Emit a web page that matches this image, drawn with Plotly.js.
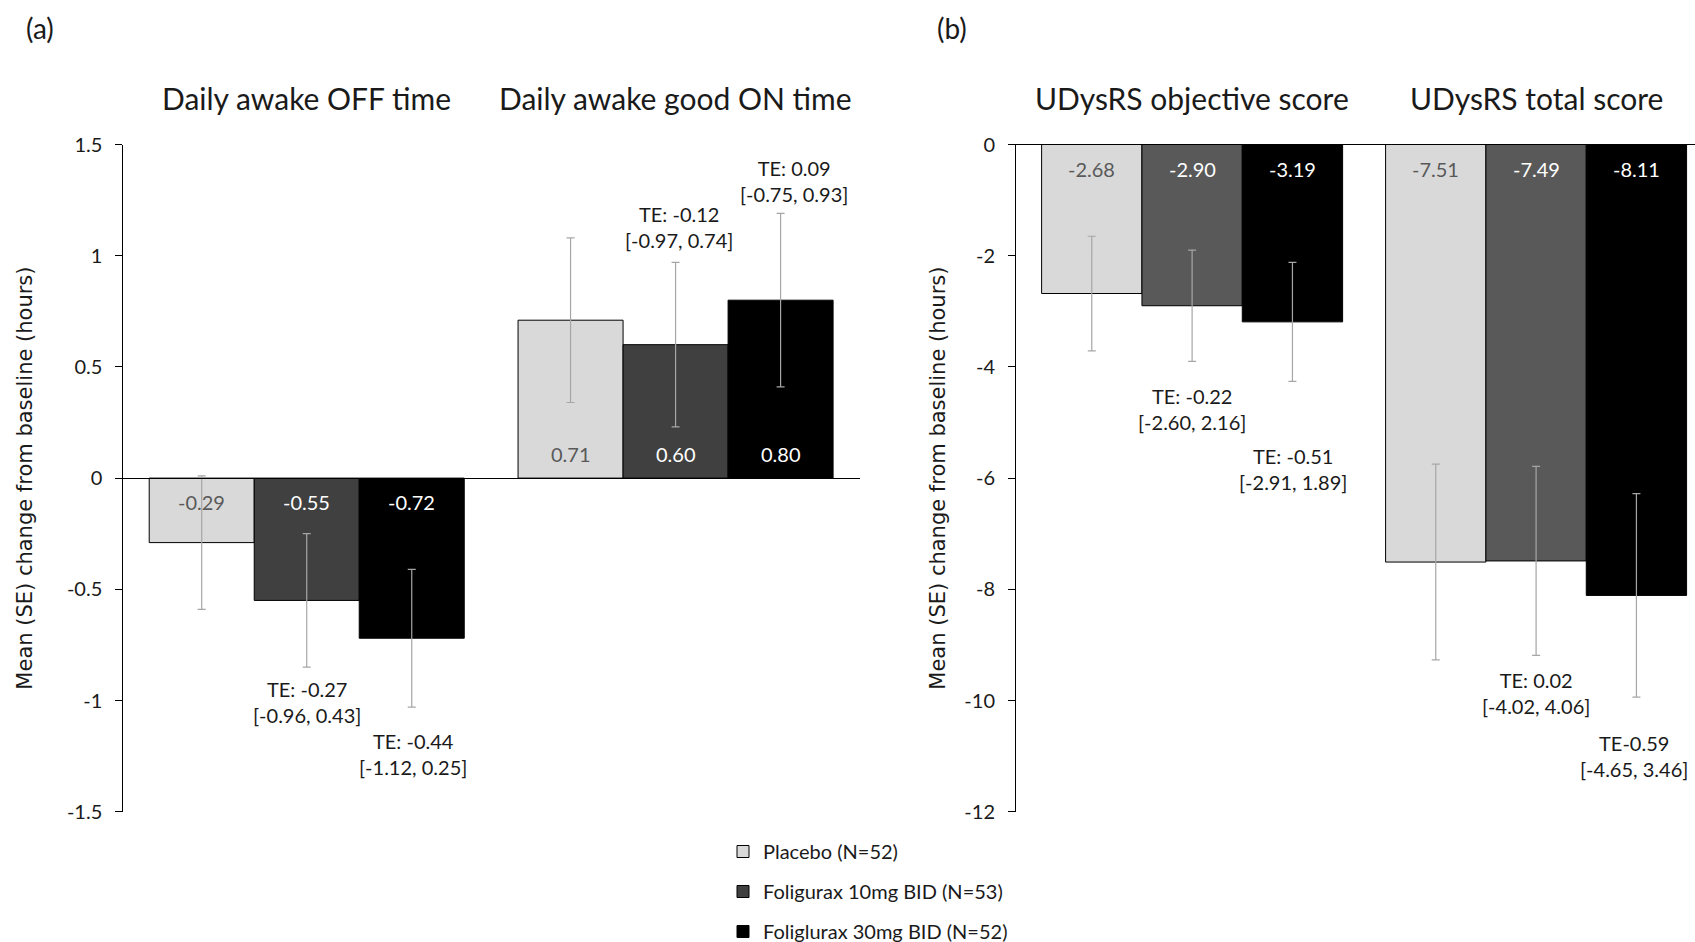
<!DOCTYPE html>
<html>
<head>
<meta charset="utf-8">
<script src="https://cdn.plot.ly/plotly-3.0.1.min.js"></script>
<style>
html,body{margin:0;padding:0;background:#ffffff;}
#chart{width:1695px;height:942px;}
</style>
</head>
<body>
<div id="chart"></div>
<script>
// ---------- DATA ----------
const seriesNames = ["Placebo (N=52)", "Foligurax 10mg BID (N=53)", "Foliglurax 30mg BID (N=52)"];

// Panel (a)
const categoriesA = ["Daily awake OFF time", "Daily awake good ON time"];
const placeboA = [-0.29, 0.71];
const dose10A  = [-0.55, 0.60];
const dose30A  = [-0.72, 0.80];
const placeboSeA = [0.30, 0.37];
const dose10SeA  = [0.30, 0.37];
const dose30SeA  = [0.31, 0.39];
const te10A = ["TE: -0.27", "TE: -0.12"];
const ci10A = ["[-0.96, 0.43]", "[-0.97, 0.74]"];
const te30A = ["TE: -0.44", "TE: 0.09"];
const ci30A = ["[-1.12, 0.25]", "[-0.75, 0.93]"];
const tickValsA = [-1.5, -1, -0.5, 0, 0.5, 1, 1.5];
const tickTextA = ["-1.5", "-1", "-0.5", "0", "0.5", "1", "1.5"];

// Panel (b)
const categoriesB = ["UDysRS objective score", "UDysRS total score"];
const placeboB = [-2.68, -7.51];
const dose10B  = [-2.90, -7.49];
const dose30B  = [-3.19, -8.11];
const placeboSeB = [1.03, 1.76];
const dose10SeB  = [1.00, 1.70];
const dose30SeB  = [1.07, 1.83];
const te10B = ["TE: -0.22", "TE: 0.02"];
const ci10B = ["[-2.60, 2.16]", "[-4.02, 4.06]"];
const te30B = ["TE: -0.51", "TE-0.59"];
const ci30B = ["[-2.91, 1.89]", "[-4.65, 3.46]"];
const tickValsB = [-12, -10, -8, -6, -4, -2, 0];
const tickTextB = ["-12", "-10", "-8", "-6", "-4", "-2", "0"];

const yTitle = "Mean (SE) change from baseline (hours)";

// ---------- STYLE ----------
const FONT = "Lato, 'Liberation Sans', Arial, sans-serif";
const TITLE_FONT = "'DejaVu Sans', Verdana, sans-serif";
const TXT = "#1a1a1a";
const colorsA = ["#d9d9d9", "#404040", "#000000"];
const colorsB = ["#d9d9d9", "#595959", "#000000"];
const labelColors = ["#595959", "#ffffff", "#ffffff"];
const errColor = "#a6a6a6";

const W = 1695, H = 942;
const yDom = [1 - 811.7 / H, 1 - 144.5 / H];
const xDomA = [122.3 / W, 860 / W];
const xDomB = [1016 / W, 1.0];

const widthA = 0.2847, widthB = 0.2917;
const offsA = [-1.5 * widthA, -0.5 * widthA, 0.5 * widthA];
const offsB = [-1.5 * widthB, -0.5 * widthB, 0.5 * widthB];

const seriesA = [placeboA, dose10A, dose30A];
const seA = [placeboSeA, dose10SeA, dose30SeA];
const seriesB = [placeboB, dose10B, dose30B];
const seB = [placeboSeB, dose10SeB, dose30SeB];

const traces = [];
function addBars(cats, vals, se, colors, width, offs, xa, ya, legend) {
  for (let i = 0; i < 3; i++) {
    traces.push({
      type: "bar",
      name: seriesNames[i],
      x: cats,
      y: vals[i],
      xaxis: xa, yaxis: ya,
      width: width,
      offset: offs[i],
      marker: {color: colors[i], line: {color: "#000000", width: 1}},
      error_y: {type: "data", array: se[i], visible: true, color: errColor, thickness: 1.2, width: 4},
      showlegend: legend,
      legendgroup: "g" + i,
      hoverinfo: "skip"
    });
  }
}
addBars(categoriesA, seriesA, seA, colorsA, widthA, offsA, "x", "y", true);
addBars(categoriesB, seriesB, seB, colorsB, widthB, offsB, "x2", "y2", false);

const annotations = [];
// value labels at the base of each bar
function addValueLabels(vals, width, xref, yref) {
  for (let i = 0; i < 3; i++) {
    for (let c = 0; c < vals[i].length; c++) {
      const v = vals[i][c];
      annotations.push({
        xref: xref, yref: yref,
        x: c + (i - 1) * width, y: 0,
        yshift: v < 0 ? -24 : 24,
        text: v.toFixed(2),
        showarrow: false,
        font: {family: FONT, size: 20, color: labelColors[i]},
        xanchor: "center", yanchor: "middle"
      });
    }
  }
}
addValueLabels(seriesA, widthA, "x", "y");
addValueLabels(seriesB, widthB, "x2", "y2");

// treatment-effect labels
function addTE(te, ci, xref, yref, xs, ys) {
  for (let c = 0; c < te.length; c++) {
    annotations.push({
      xref: xref, yref: yref, x: xs[c], y: ys[c],
      text: te[c] + "<br>" + ci[c],
      showarrow: false,
      font: {family: FONT, size: 20, color: TXT},
      xanchor: "center", yanchor: "middle"
    });
  }
}
addTE(te10A, ci10A, "x", "y", [0, 1.01], [-1.007, 1.128]);
addTE(te30A, ci30A, "x", "y", [0.288, 1.322], [-1.241, 1.335]);
addTE(te10B, ci10B, "x2", "y2", [0, 1], [-4.76, -9.86]);
addTE(te30B, ci30B, "x2", "y2", [0.293, 1.286], [-5.83, -10.99]);

// category titles above each group
function addCatTitles(cats, xref) {
  cats.forEach((c, k) => annotations.push({
    xref: xref, yref: "paper", x: k, y: 1 - 98 / H,
    text: c, showarrow: false,
    font: {family: FONT, size: 30, color: TXT},
    xanchor: "center", yanchor: "middle"
  }));
}
addCatTitles(categoriesA, "x");
addCatTitles(categoriesB, "x2");

// panel labels
annotations.push({xref: "paper", yref: "paper", x: 40 / W, y: 1 - 28 / H, text: "(a)", showarrow: false,
  font: {family: FONT, size: 28, color: TXT}, xanchor: "center", yanchor: "middle"});
annotations.push({xref: "paper", yref: "paper", x: 952 / W, y: 1 - 28 / H, text: "(b)", showarrow: false,
  font: {family: FONT, size: 28, color: TXT}, xanchor: "center", yanchor: "middle"});

const zeroPosA = yDom[0] + 0.5 * (yDom[1] - yDom[0]);

const yAxisBase = {
  showline: true, linecolor: "#000000", linewidth: 1,
  ticks: "outside", ticklen: 7, tickcolor: "#000000", tickwidth: 1,
  ticklabelstandoff: 9,
  showgrid: false, zeroline: false,
  tickfont: {family: FONT, size: 20, color: TXT},
  fixedrange: true
};

const layout = {
  width: W, height: H,
  margin: {l: 0, r: 0, t: 0, b: 0, autoexpand: false},
  paper_bgcolor: "#ffffff", plot_bgcolor: "#ffffff",
  barmode: "group",
  showlegend: true,
  legend: {
    orientation: "v", x: 723 / W, xanchor: "left", y: 1 - 832 / H, yanchor: "top",
    font: {family: FONT, size: 20, color: TXT},
    tracegroupgap: 11, itemwidth: 30, bgcolor: "rgba(0,0,0,0)"
  },
  xaxis: {
    domain: xDomA, type: "category", range: [-0.5, 1.5],
    anchor: "free", position: zeroPosA,
    showline: true, linecolor: "#000000", linewidth: 1,
    showticklabels: false, ticks: "", showgrid: false, zeroline: false, fixedrange: true
  },
  yaxis: Object.assign({}, yAxisBase, {
    domain: yDom, anchor: "free", position: xDomA[0],
    range: [-1.5, 1.5], tickvals: tickValsA, ticktext: tickTextA,
    title: {text: yTitle, font: {family: TITLE_FONT, size: 21, color: TXT}, standoff: 27}
  }),
  xaxis2: {
    domain: xDomB, type: "category", range: [-0.512, 1.462],
    anchor: "y2", side: "top",
    showline: true, linecolor: "#000000", linewidth: 1,
    showticklabels: false, ticks: "", showgrid: false, zeroline: false, fixedrange: true
  },
  yaxis2: Object.assign({}, yAxisBase, {
    domain: yDom, anchor: "x2",
    range: [-12, 0], tickvals: tickValsB, ticktext: tickTextB,
    title: {text: yTitle, font: {family: TITLE_FONT, size: 21, color: TXT}, standoff: 13}
  }),
  annotations: annotations
};

Plotly.newPlot("chart", traces, layout, {displayModeBar: false, staticPlot: true});
</script>
</body>
</html>
